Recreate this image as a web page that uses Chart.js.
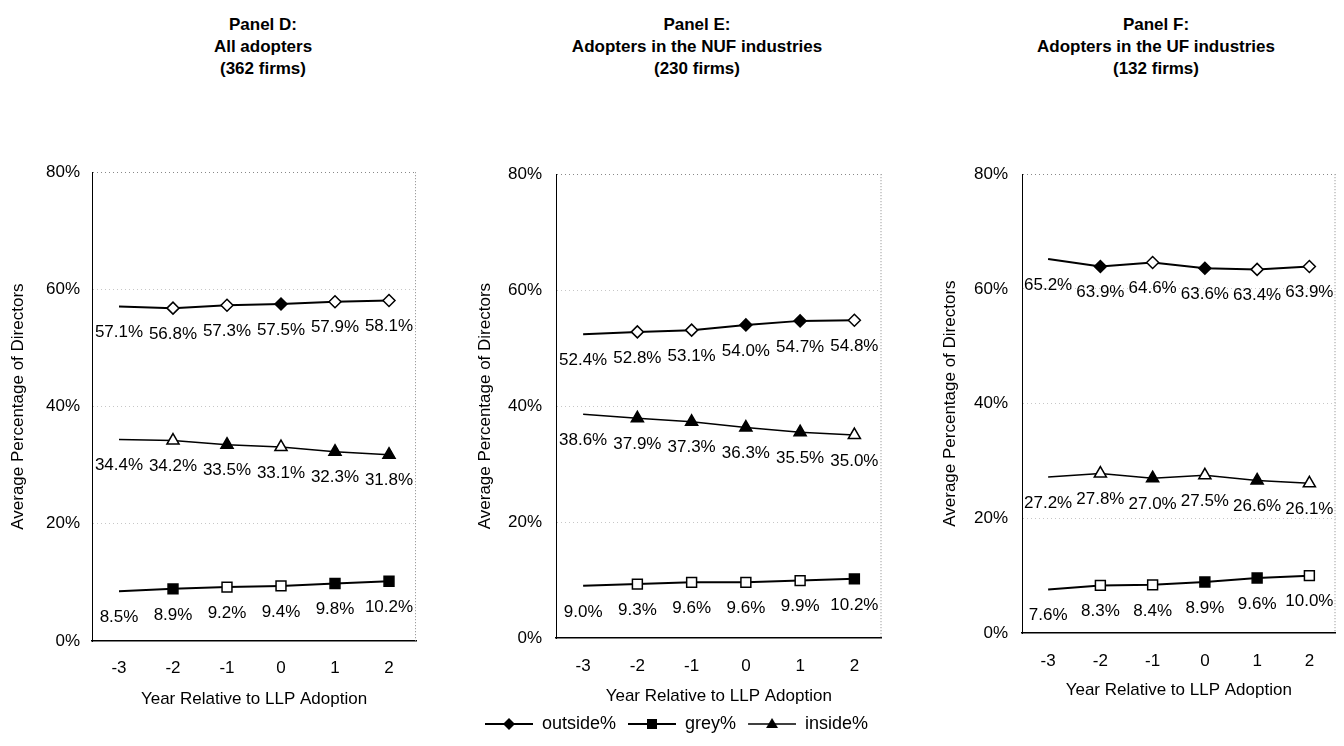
<!DOCTYPE html>
<html>
<head>
<meta charset="utf-8">
<title>Board composition around LLP adoption</title>
<script src="https://cdn.jsdelivr.net/npm/chart.js@4.4.1/dist/chart.umd.min.js"></script>
<style>
  body { margin: 0; width: 1344px; height: 746px; overflow: hidden; background: #fff;
         font-family: "Liberation Sans", Arial, sans-serif; }
  canvas { position: absolute; }
  .ttl { position: absolute; top: 14px; transform: translateX(-50%); white-space: nowrap;
         text-align: center; font-weight: bold; font-size: 17px; line-height: 22px; color: #000; }
</style>
</head>
<body>
<div class="ttl" style="left:263px">Panel D:<br>All adopters<br>(362 firms)</div>
<div class="ttl" style="left:697px">Panel E:<br>Adopters in the NUF industries<br>(230 firms)</div>
<div class="ttl" style="left:1156px">Panel F:<br>Adopters in the UF industries<br>(132 firms)</div>

<canvas id="panelD" width="430" height="560" style="left:0px;top:150px"></canvas>
<canvas id="panelE" width="450" height="596" style="left:440px;top:150px"></canvas>
<canvas id="panelF" width="464" height="560" style="left:880px;top:150px"></canvas>

<script>
var years = ['-3', '-2', '-1', '0', '1', '2'];
var seriesNames = ['outside%', 'grey%', 'inside%'];

// Panel D: all adopters
var outsideD = [57.1, 56.8, 57.3, 57.5, 57.9, 58.1];
var greyD    = [8.5, 8.9, 9.2, 9.4, 9.8, 10.2];
var insideD  = [34.4, 34.2, 33.5, 33.1, 32.3, 31.8];

// Panel E: NUF industries
var outsideE = [52.4, 52.8, 53.1, 54.0, 54.7, 54.8];
var greyE    = [9.0, 9.3, 9.6, 9.6, 9.9, 10.2];
var insideE  = [38.6, 37.9, 37.3, 36.3, 35.5, 35.0];

// Panel F: UF industries
var outsideF = [65.2, 63.9, 64.6, 63.6, 63.4, 63.9];
var greyF    = [7.6, 8.3, 8.4, 8.9, 9.6, 10.0];
var insideF  = [27.2, 27.8, 27.0, 27.5, 26.6, 26.1];

// which markers came out solid in the printed figure (1) vs hollow (0)
var solidD = [[0, 0, 0, 1, 0, 0], [0, 1, 0, 0, 1, 1], [0, 0, 1, 0, 1, 1]];
var solidE = [[0, 0, 0, 1, 1, 0], [0, 0, 0, 0, 0, 1], [0, 1, 1, 1, 1, 0]];
var solidF = [[0, 1, 0, 1, 0, 0], [0, 0, 0, 1, 1, 0], [0, 0, 1, 0, 1, 0]];

Chart.defaults.font.family = '"Liberation Sans", Arial, sans-serif';
Chart.defaults.color = '#000';

var shapes = ['rectRot', 'rect', 'triangle'];
var radii = [6, 7, 7];
var widths = [2, 2, 1.5];

function makeSet(i, data, solid) {
    var r = radii[i];
    return {
        label: seriesNames[i],
        data: data,
        borderColor: '#000',
        borderWidth: widths[i],
        tension: 0,
        fill: false,
        pointStyle: shapes[i],
        pointRadius: function(c) { return c.dataIndex === 0 ? 0 : r; },
        pointHoverRadius: function(c) { return c.dataIndex === 0 ? 0 : r; },
        pointBackgroundColor: function(c) { return solid[c.dataIndex] ? '#000' : '#fff'; },
        pointBorderColor: '#000',
        pointBorderWidth: 1.5
    };
}

// value printed under every point
var valueLabels = {
    id: 'valueLabels',
    afterDatasetsDraw: function(chart) {
        var ctx = chart.ctx;
        ctx.save();
        ctx.font = '17px "Liberation Sans", Arial, sans-serif';
        ctx.fillStyle = '#000';
        ctx.textAlign = 'center';
        ctx.textBaseline = 'middle';
        chart.data.datasets.forEach(function(ds, i) {
            chart.getDatasetMeta(i).data.forEach(function(pt, j) {
                ctx.fillText(ds.data[j].toFixed(1) + '%', pt.x, pt.y + 26);
            });
        });
        ctx.restore();
    }
};

// dotted right edge of the plot box (top edge is the 80% grid line)
var frame = {
    id: 'frame',
    beforeDatasetsDraw: function(chart) {
        var a = chart.chartArea, ctx = chart.ctx;
        ctx.save();
        ctx.strokeStyle = '#888';
        ctx.lineWidth = 1;
        ctx.setLineDash([1, 2]);
        ctx.beginPath();
        ctx.moveTo(a.right - 0.5, a.top);
        ctx.lineTo(a.right - 0.5, a.bottom);
        ctx.stroke();
        ctx.restore();
    }
};

function legendMark(i) {
    var c = document.createElement('canvas');
    c.width = 52; c.height = 16;
    var g = c.getContext('2d');
    g.strokeStyle = '#000';
    g.fillStyle = '#000';
    g.lineWidth = widths[i];
    g.beginPath(); g.moveTo(4, 8); g.lineTo(52, 8); g.stroke();
    var cx = 28, cy = 8;
    g.beginPath();
    if (i === 0) {
        g.moveTo(cx, cy - 6); g.lineTo(cx + 6, cy); g.lineTo(cx, cy + 6); g.lineTo(cx - 6, cy);
    } else if (i === 1) {
        g.rect(cx - 5, cy - 5, 10, 10);
    } else {
        g.moveTo(cx, cy - 6); g.lineTo(cx + 6, cy + 4); g.lineTo(cx - 6, cy + 4);
    }
    g.closePath();
    g.fill();
    return c;
}
var legendMarks = [legendMark(0), legendMark(1), legendMark(2)];

function makePanel(id, outside, grey, inside, solid, lay) {
    return new Chart(document.getElementById(id), {
        type: 'line',
        data: {
            labels: years,
            datasets: [
                makeSet(0, outside, solid[0]),
                makeSet(1, grey, solid[1]),
                makeSet(2, inside, solid[2])
            ]
        },
        options: {
            responsive: false,
            animation: false,
            devicePixelRatio: 1,
            layout: { padding: lay.padding },
            plugins: {
                tooltip: { enabled: false },
                legend: {
                    display: lay.legend,
                    position: 'bottom',
                    labels: {
                        usePointStyle: true,
                        pointStyleWidth: 52,
                        padding: 8,
                        font: { size: 18 },
                        color: '#000',
                        generateLabels: function(chart) {
                            return chart.data.datasets.map(function(ds, i) {
                                return {
                                    text: ds.label, pointStyle: legendMarks[i], datasetIndex: i,
                                    hidden: false, lineWidth: 0, fillStyle: '#000',
                                    strokeStyle: '#000', fontColor: '#000'
                                };
                            });
                        }
                    }
                }
            },
            scales: {
                x: {
                    type: 'category',
                    offset: true,
                    grid: { display: false, drawTicks: false },
                    border: { color: '#000', width: 1.5 },
                    ticks: { padding: lay.xPad, font: { size: 17 }, color: '#000', maxRotation: 0 },
                    title: { display: true, text: 'Year Relative to LLP Adoption', font: { size: 17 }, color: '#000', padding: 0 },
                    afterFit: function(s) { s.height = lay.xHeight; }
                },
                y: {
                    min: 0,
                    max: 80,
                    ticks: {
                        stepSize: 20, padding: lay.yPad, font: { size: 17 }, color: '#000',
                        callback: function(v) { return v + '%'; }
                    },
                    grid: {
                        drawTicks: false,
                        lineWidth: 1,
                        color: function(c) {
                            if (c.tick.value === 0) return 'rgba(0,0,0,0)';
                            if (c.tick.value === 80) return '#888';
                            return 'rgba(0,0,0,0.22)';
                        }
                    },
                    border: { color: '#000', width: 1, dash: [1, 3] },
                    title: {
                        display: true, text: 'Average Percentage of Directors',
                        font: { size: 17 }, color: '#000', padding: { top: lay.yTitle, bottom: 0 }
                    },
                    afterFit: function(s) { s.width = lay.yWidth; }
                }
            }
        },
        plugins: [frame, valueLabels]
    });
}

makePanel('panelD', outsideD, greyD, insideD, solidD, {
    padding: { top: 17, right: 14, bottom: 0, left: 0 },
    yWidth: 92, yPad: 12, yTitle: 8.5, xHeight: 69, xPad: 17, legend: false
});
makePanel('panelE', outsideE, greyE, insideE, solidE, {
    padding: { top: 11, right: 7, bottom: 3, left: 26 },
    yWidth: 90, yPad: 14, yTitle: 8.8, xHeight: 69, xPad: 18, legend: true
});
makePanel('panelF', outsideF, greyF, insideF, solidF, {
    padding: { top: 9, right: 1, bottom: 9, left: 0 },
    yWidth: 142, yPad: 14, yTitle: 59.8, xHeight: 68, xPad: 18, legend: false
});
</script>
</body>
</html>
